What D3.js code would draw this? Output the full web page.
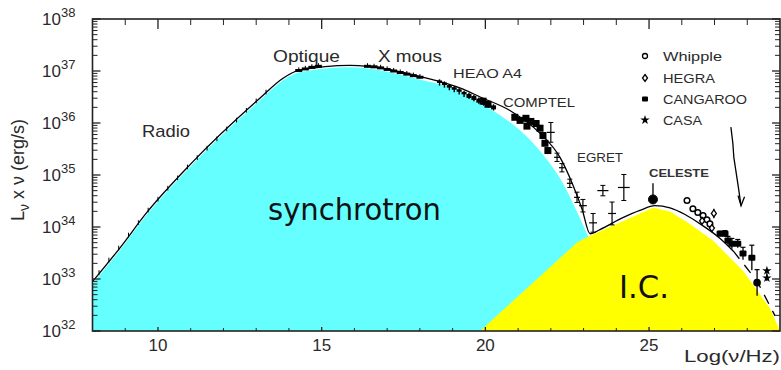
<!DOCTYPE html>
<html><head><meta charset="utf-8">
<script src="https://cdn.jsdelivr.net/npm/d3@7"></script>
<style>body{margin:0;background:#fff}svg{display:block}text{font-family:"Liberation Sans",Arial,sans-serif;fill:#2a2a2a}</style>
</head><body><svg id="c" width="781" height="370"></svg>
<script>
// ---- data (x: log10(nu/Hz), y: log10(L nu / erg s^-1)) ----
const xTicksMajor = [10, 15, 20, 25];
const yDecades = [32, 33, 34, 35, 36, 37, 38];

const syncNu = [8.00, 8.84, 9.66, 10.98, 13.12, 13.82, 14.34, 15.87, 18.09, 19.32, 19.84, 20.45, 21.06, 21.58, 21.97, 22.37, 22.74, 23.13, 23.50, 23.96];
const syncL  = [32.91, 33.56, 34.24, 35.16, 36.44, 36.82, 36.98, 37.07, 36.82, 36.59, 36.38, 36.15, 35.86, 35.53, 35.22, 34.84, 34.37, 33.83, 33.25, 32.00];

const icNu = [19.84, 22.80, 23.20, 25.12, 25.64, 26.25, 26.95, 27.87, 28.69, 29.00];
const icL  = [32.00, 33.70, 33.83, 34.37, 34.30, 34.06, 33.74, 33.16, 32.44, 32.00];

const modelNu = [8.00, 8.84, 9.66, 10.98, 13.12, 13.82, 14.34, 15.87, 18.09, 19.32, 19.84, 20.75, 21.67, 22.28, 22.68, 22.95, 23.20, 23.50, 24.20, 24.72, 25.18, 25.64, 26.10, 26.56, 27.17, 27.57];
const modelL  = [32.95, 33.60, 34.28, 35.20, 36.48, 36.86, 37.02, 37.11, 36.88, 36.65, 36.50, 36.24, 35.80, 35.34, 34.80, 34.35, 33.87, 33.95, 34.18, 34.32, 34.41, 34.37, 34.24, 34.06, 33.78, 33.54];
const modelDashNu = [27.57, 28.30, 28.85];
const modelDashL  = [33.54, 32.96, 32.29];

const radioNu = [8.2, 8.5, 8.8, 9.1, 9.4, 9.7, 10.0, 10.3, 10.6, 10.9, 11.2, 11.5, 11.8, 12.1, 12.4, 12.7, 13.0, 13.3];
const radioL  = [33.11, 33.35, 33.58, 33.83, 34.07, 34.31, 34.52, 34.73, 34.93, 35.14, 35.32, 35.50, 35.68, 35.87, 36.04, 36.23, 36.41, 36.58];

const optNu = [14.3, 14.5, 14.7, 14.9, 16.4, 16.6, 16.8, 17.0, 17.2, 17.4, 17.6, 17.8, 18.0];
const optL  = [37.01, 37.04, 37.07, 37.09, 37.09, 37.08, 37.06, 37.03, 37.00, 36.97, 36.94, 36.91, 36.88];

const heaoNu = [18.6, 18.75, 18.9, 19.05, 19.2, 19.35, 19.5, 19.65, 19.8, 19.95, 20.1, 20.25];
const heaoL  = [36.79, 36.75, 36.70, 36.66, 36.62, 36.57, 36.53, 36.49, 36.44, 36.40, 36.36, 36.31];

const comptelNu = [19.93, 20.08, 20.90, 21.06, 21.24, 21.39, 21.55, 21.67, 21.27, 21.76, 21.82, 21.91];
const comptelL  = [36.42, 36.36, 36.11, 36.05, 36.09, 36.03, 35.99, 35.90, 35.94, 35.76, 35.61, 35.47];

const egretNu  = [22.00, 22.19, 22.34, 22.58, 22.80, 22.98, 23.29, 23.87, 23.59, 24.23];
const egretL   = [35.82, 35.34, 35.14, 34.84, 34.57, 34.41, 34.08, 34.26, 34.70, 34.76];
const egretDNu = [0.12, 0.09, 0.09, 0.09, 0.09, 0.12, 0.12, 0.12, 0.17, 0.18];
const egretDL  = [0.19, 0.08, 0.08, 0.08, 0.10, 0.12, 0.18, 0.22, 0.10, 0.25];

const celesteNu = [25.12];
const celesteL  = [34.53];
const celesteUp = [34.84];

const whippleNu = [26.16, 26.34, 26.49, 26.65, 26.77, 26.86];
const whippleL  = [34.51, 34.35, 34.28, 34.22, 34.14, 34.06];

const hegraNu = [26.98, 26.62, 26.92];
const hegraL  = [34.26, 34.12, 33.98];
const hegraDL = [0.09, 0.06, 0.07];

const cangNu = [27.17, 27.32, 27.41, 27.53, 27.71, 27.87, 28.14, 28.30];
const cangL  = [33.87, 33.87, 33.74, 33.68, 33.68, 33.49, 33.41, 32.93];
const cangDL = [0.05, 0.06, 0.08, 0.10, 0.08, 0.12, 0.24, 0.25];

const casaNu = [28.60, 28.60];
const casaL  = [33.16, 33.02];

const arrowNu = [27.50, 27.56, 27.59, 27.65, 27.72, 27.81];
const arrowL  = [35.92, 35.61, 35.34, 35.09, 34.80, 34.41];

const legendNames = ["Whipple", "HEGRA", "CANGAROO", "CASA"];

// ---- chart ----
const svg = d3.select("#c");
const x = d3.scaleLinear().domain([8, 29]).range([92.5, 780]);
const y = d3.scaleLinear().domain([32, 38]).range([331, 19]);
const zip = (a, b) => a.map((v, i) => [v, b[i]]);

const areaS = d3.area().x(d => x(d[0])).y0(y(32)).y1(d => y(d[1])).curve(d3.curveMonotoneX);
const areaL = d3.area().x(d => x(d[0])).y0(y(32)).y1(d => y(d[1]));
const line = d3.line().x(d => x(d[0])).y(d => y(d[1]));
const lineS = d3.line().x(d => x(d[0])).y(d => y(d[1])).curve(d3.curveMonotoneX);

svg.append("path").attr("d", areaS(zip(syncNu, syncL))).attr("fill", "#66ffff");
svg.append("path").attr("d", areaL(zip(icNu, icL))).attr("fill", "#ffff00");

svg.append("path").attr("d", lineS(zip(modelNu, modelL))).attr("fill", "none").attr("stroke", "#000").attr("stroke-width", 1.3);
svg.append("path").attr("d", line(zip(modelDashNu, modelDashL))).attr("fill", "none").attr("stroke", "#000").attr("stroke-width", 1.3).attr("stroke-dasharray", "10,8");

const g = svg.append("g").attr("stroke", "#000").attr("fill", "#000");

// radio points: short error bars on the line
zip(radioNu, radioL).forEach(([a, b]) => {
  g.append("line").attr("x1", x(a)).attr("x2", x(a)).attr("y1", y(b - 0.03)).attr("y2", y(b + 0.06)).attr("stroke-width", 1);
});
// optical / soft X band
zip(optNu, optL).forEach(([a, b]) => {
  g.append("rect").attr("x", x(a) - 3.5).attr("y", y(b) - 1.5).attr("width", 7).attr("height", 3).attr("stroke", "none");
  g.append("line").attr("x1", x(a)).attr("x2", x(a)).attr("y1", y(b - 0.02)).attr("y2", y(b + 0.06)).attr("stroke-width", 1);
});
// HEAO A4
zip(heaoNu, heaoL).forEach(([a, b], i) => {
  g.append("line").attr("x1", x(a)).attr("x2", x(a)).attr("y1", y(b - 0.07)).attr("y2", y(b + 0.05)).attr("stroke-width", 1.4);
  g.append("rect").attr("x", x(a) - 2.5).attr("y", y(b) - 1.5).attr("width", 5).attr("height", i > 5 ? 4 : 2.5).attr("stroke", "none");
});
// COMPTEL
zip(comptelNu, comptelL).forEach(([a, b]) => {
  g.append("rect").attr("x", x(a) - 3.5).attr("y", y(b) - 3.5).attr("width", 7).attr("height", 7).attr("stroke", "none");
});
// EGRET crosses
egretNu.forEach((a, i) => {
  const b = egretL[i];
  g.append("line").attr("x1", x(a - egretDNu[i])).attr("x2", x(a + egretDNu[i])).attr("y1", y(b)).attr("y2", y(b)).attr("stroke-width", 1.2);
  g.append("line").attr("x1", x(a)).attr("x2", x(a)).attr("y1", y(b - egretDL[i])).attr("y2", y(b + egretDL[i])).attr("stroke-width", 1.2);
  g.append("line").attr("x1", x(a) - 2.5).attr("x2", x(a) + 2.5).attr("y1", y(b + egretDL[i])).attr("y2", y(b + egretDL[i])).attr("stroke-width", 1);
  g.append("line").attr("x1", x(a) - 2.5).attr("x2", x(a) + 2.5).attr("y1", y(b - egretDL[i])).attr("y2", y(b - egretDL[i])).attr("stroke-width", 1);
});
// CELESTE
celesteNu.forEach((a, i) => {
  g.append("line").attr("x1", x(a)).attr("x2", x(a)).attr("y1", y(celesteL[i])).attr("y2", y(celesteUp[i])).attr("stroke-width", 1.3);
  g.append("circle").attr("cx", x(a)).attr("cy", y(celesteL[i])).attr("r", 4.5);
});
// Whipple
zip(whippleNu, whippleL).forEach(([a, b]) => {
  g.append("circle").attr("cx", x(a)).attr("cy", y(b)).attr("r", 2.8).attr("fill", "#fff").attr("stroke-width", 1.5);
});
// HEGRA
hegraNu.forEach((a, i) => {
  const b = hegraL[i], cx = x(a), cy = y(b);
  g.append("line").attr("x1", cx).attr("x2", cx).attr("y1", y(b - hegraDL[i])).attr("y2", y(b + hegraDL[i])).attr("stroke-width", 1.2);
  g.append("path").attr("d", `M${cx},${cy - 3.5}L${cx + 2.5},${cy}L${cx},${cy + 3.5}L${cx - 2.5},${cy}Z`).attr("fill", "#fff").attr("stroke-width", 1.3);
});
// CANGAROO
cangNu.forEach((a, i) => {
  const b = cangL[i], cx = x(a), cy = y(b);
  g.append("line").attr("x1", cx).attr("x2", cx).attr("y1", y(b - cangDL[i])).attr("y2", y(b + cangDL[i])).attr("stroke-width", 1.3);
  g.append("line").attr("x1", cx - 2.5).attr("x2", cx + 2.5).attr("y1", y(b + cangDL[i])).attr("y2", y(b + cangDL[i])).attr("stroke-width", 1.2);
  if (i === cangNu.length - 1) g.append("circle").attr("cx", cx).attr("cy", cy).attr("r", 3.8).attr("stroke", "none");
  else g.append("rect").attr("x", cx - 3.5).attr("y", cy - 3).attr("width", 7).attr("height", 6).attr("rx", 1).attr("stroke", "none");
});
// CASA
const star = d3.symbol().type(d3.symbolStar).size(28);
zip(casaNu, casaL).forEach(([a, b]) => {
  g.append("path").attr("d", star()).attr("transform", `translate(${x(a)},${y(b)})`).attr("stroke", "none");
});
g.append("line").attr("x1", x(casaNu[0])).attr("x2", x(casaNu[0])).attr("y1", y(casaL[0])).attr("y2", y(casaL[1] - 0.06)).attr("stroke-width", 1.2);

// arrow
svg.append("path").attr("d", line(zip(arrowNu, arrowL))).attr("fill", "none").attr("stroke", "#000").attr("stroke-width", 1.3);
{
  const n = arrowNu.length - 1, tx = x(arrowNu[n]), ty = y(arrowL[n]);
  svg.append("path").attr("d", `M${tx - 3},${ty - 10}L${tx},${ty}L${tx + 3.5},${ty - 9}`).attr("fill", "none").attr("stroke", "#000").attr("stroke-width", 1.3);
}

// ---- axes frame & ticks ----
const axG = svg.append("g").attr("stroke", "#222");
axG.append("rect").attr("x", x(8)).attr("y", y(38)).attr("width", x(29) - x(8)).attr("height", y(32) - y(38)).attr("fill", "none").attr("stroke-width", 1.6);
const minorY = [];
yDecades.slice(0, -1).forEach(n => d3.range(2, 10).forEach(k => minorY.push(n + Math.log10(k))));
[[x(8), 1], [x(29), -1]].forEach(([px, dir]) => {
  yDecades.forEach(v => axG.append("line").attr("x1", px).attr("x2", px + dir * 8).attr("y1", y(v)).attr("y2", y(v)).attr("stroke-width", 1.3));
  minorY.forEach(v => axG.append("line").attr("x1", px).attr("x2", px + dir * 5).attr("y1", y(v)).attr("y2", y(v)).attr("stroke-width", 1));
});
const xMinor = d3.range(9, 29).filter(v => !xTicksMajor.includes(v));
[[y(38), 1], [y(32), -1]].forEach(([py, dir]) => {
  xTicksMajor.forEach(v => axG.append("line").attr("x1", x(v)).attr("x2", x(v)).attr("y1", py).attr("y2", py + dir * (dir > 0 ? 10 : 4)).attr("stroke-width", 1.3));
  xMinor.forEach(v => axG.append("line").attr("x1", x(v)).attr("x2", x(v)).attr("y1", py).attr("y2", py + dir * (dir > 0 ? 6 : 3)).attr("stroke-width", 1));
});

// tick labels
yDecades.forEach(n => {
  const t = svg.append("text").attr("x", 42).attr("y", y(n) + 6).style("font-size", "17px");
  t.append("tspan").text("10");
  t.append("tspan").attr("dy", -8).style("font-size", "13px").text(n);
});
xTicksMajor.forEach(v => {
  svg.append("text").attr("x", x(v)).attr("y", 351).attr("text-anchor", "middle").style("font-size", "17px").text(v);
});
svg.append("text").attr("x", 684).attr("y", 362).style("font-size", "16px").attr("textLength", 96).attr("lengthAdjust", "spacingAndGlyphs").text("Log(ν/Hz)");

// y axis title
{
  const t = svg.append("text").attr("transform", "translate(24,170) rotate(-90)").attr("text-anchor", "middle").style("font-size", "18px");
  t.append("tspan").text("L");
  t.append("tspan").attr("dy", 5).style("font-size", "14px").text("ν");
  t.append("tspan").attr("dy", -5).text(" x ν  (erg/s)");
}

// annotations
function label(txt, px, py, size, len, extra) {
  const t = svg.append("text").attr("x", px).attr("y", py).style("font-size", size + "px").text(txt);
  if (len) t.attr("textLength", len).attr("lengthAdjust", "spacingAndGlyphs");
  if (extra) extra(t);
  return t;
}
label("Radio", 142, 137, 17, 48);
label("Optique", 273, 62, 17, 67);
label("X mous", 378, 62, 17, 64);
label("HEAO  A4", 453, 78, 12.5, 69);
label("COMPTEL", 503, 107, 13, 72);
label("EGRET", 577, 162, 13, 46);
label("CELESTE", 649, 177, 11.5, 60, t => t.style("font-weight", "bold").style("fill", "#333"));
label("synchrotron", 268, 220, 31, 173, t => t.style("font-family", "'Comic Sans MS','DejaVu Sans',sans-serif").style("fill", "#111"));
label("I.C.", 619, 298, 32, 50, t => t.style("font-family", "'Comic Sans MS','DejaVu Sans',sans-serif").style("fill", "#111"));

// legend
const lg = svg.append("g");
const ly = [56, 78, 99, 120];
legendNames.forEach((nm, i) => {
  label(nm, 663, ly[i] + 5, 13, [59, 52, 84, 39][i]);
});
lg.append("circle").attr("cx", 645).attr("cy", ly[0]).attr("r", 2.5).attr("fill", "#fff").attr("stroke", "#000").attr("stroke-width", 1.3);
lg.append("path").attr("d", `M645,${ly[1] - 3.5}L647.5,${ly[1]}L645,${ly[1] + 3.5}L642.5,${ly[1]}Z`).attr("fill", "#fff").attr("stroke", "#000").attr("stroke-width", 1.3);
lg.append("rect").attr("x", 642).attr("y", ly[2] - 2.5).attr("width", 6).attr("height", 5).attr("rx", 1).attr("fill", "#000");
lg.append("path").attr("d", star()).attr("transform", `translate(645,${ly[3]})`).attr("fill", "#000");
</script></body></html>
